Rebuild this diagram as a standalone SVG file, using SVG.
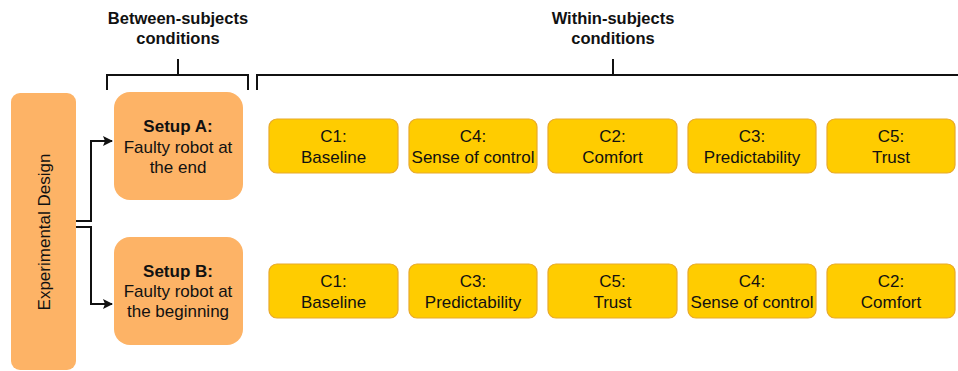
<svg xmlns="http://www.w3.org/2000/svg" width="958" height="371" viewBox="0 0 958 371">
<style>
text{font-family:"Liberation Sans",Arial,sans-serif;font-size:17px;fill:#111;text-anchor:middle}
.b{font-weight:bold}
.h{font-size:16.5px}
.or{fill:#FDB366}
.c{fill:#FFCC00;stroke:#E8A92A;stroke-width:1.2}
.ln{fill:none;stroke:#111;stroke-width:2}
</style>
<defs>
<marker id="ah" markerWidth="10" markerHeight="10" refX="9" refY="5" orient="auto" markerUnits="userSpaceOnUse">
<path d="M0,0 L10,5 L0,10 L2,5 Z" fill="#111"/>
</marker>
</defs>
<rect width="958" height="371" fill="#fff"/>
<g id="labels">
<text class="b h" x="178" y="24">Between-subjects</text>
<text class="b h" x="178" y="44">conditions</text>
<text class="b h" x="613" y="24">Within-subjects</text>
<text class="b h" x="613" y="44">conditions</text>
</g>
<g id="brackets">
<path class="ln" d="M107,90 V75 H248 V90 M178,59 V75"/>
<path class="ln" d="M257,90 V75 H958 M613,59 V75"/>
</g>
<g id="design">
<rect class="or" x="11" y="93" width="65" height="277" rx="9"/>
<text transform="translate(50,232) rotate(-90)">Experimental  Design</text>
</g>
<g id="setupA">
<rect class="or" x="114" y="92" width="129" height="108" rx="16"/>
<text class="b" x="178" y="132">Setup A:</text>
<text x="178" y="153">Faulty robot at</text>
<text x="178" y="173">the end</text>
</g>
<g id="setupB">
<rect class="or" x="114" y="237" width="129" height="108" rx="16"/>
<text class="b" x="178" y="277">Setup B:</text>
<text x="178" y="297">Faulty robot at</text>
<text x="178" y="317">the beginning</text>
</g>
<g id="connectors">
<path class="ln" d="M76,221 H91 V141 H112" marker-end="url(#ah)"/>
<path class="ln" d="M76,227 H91 V304 H112" marker-end="url(#ah)"/>
</g>
<g id="a1"><rect class="c" x="269" y="119" width="129" height="54" rx="8"/><text x="333.5" y="142">C1:</text><text x="333.5" y="163">Baseline</text></g>
<g id="a2"><rect class="c" x="409" y="119" width="128" height="54" rx="8"/><text x="473" y="142">C4:</text><text x="473" y="163">Sense of control</text></g>
<g id="a3"><rect class="c" x="548" y="119" width="129" height="54" rx="8"/><text x="612.5" y="142">C2:</text><text x="612.5" y="163">Comfort</text></g>
<g id="a4"><rect class="c" x="688" y="119" width="128" height="54" rx="8"/><text x="752" y="142">C3:</text><text x="752" y="163">Predictability</text></g>
<g id="a5"><rect class="c" x="827" y="119" width="128" height="54" rx="8"/><text x="891" y="142">C5:</text><text x="891" y="163">Trust</text></g>
<g id="b1"><rect class="c" x="269" y="264" width="129" height="54" rx="8"/><text x="333.5" y="287">C1:</text><text x="333.5" y="308">Baseline</text></g>
<g id="b2"><rect class="c" x="409" y="264" width="128" height="54" rx="8"/><text x="473" y="287">C3:</text><text x="473" y="308">Predictability</text></g>
<g id="b3"><rect class="c" x="548" y="264" width="129" height="54" rx="8"/><text x="612.5" y="287">C5:</text><text x="612.5" y="308">Trust</text></g>
<g id="b4"><rect class="c" x="688" y="264" width="128" height="54" rx="8"/><text x="752" y="287">C4:</text><text x="752" y="308">Sense of control</text></g>
<g id="b5"><rect class="c" x="827" y="264" width="128" height="54" rx="8"/><text x="891" y="287">C2:</text><text x="891" y="308">Comfort</text></g>
</svg>
